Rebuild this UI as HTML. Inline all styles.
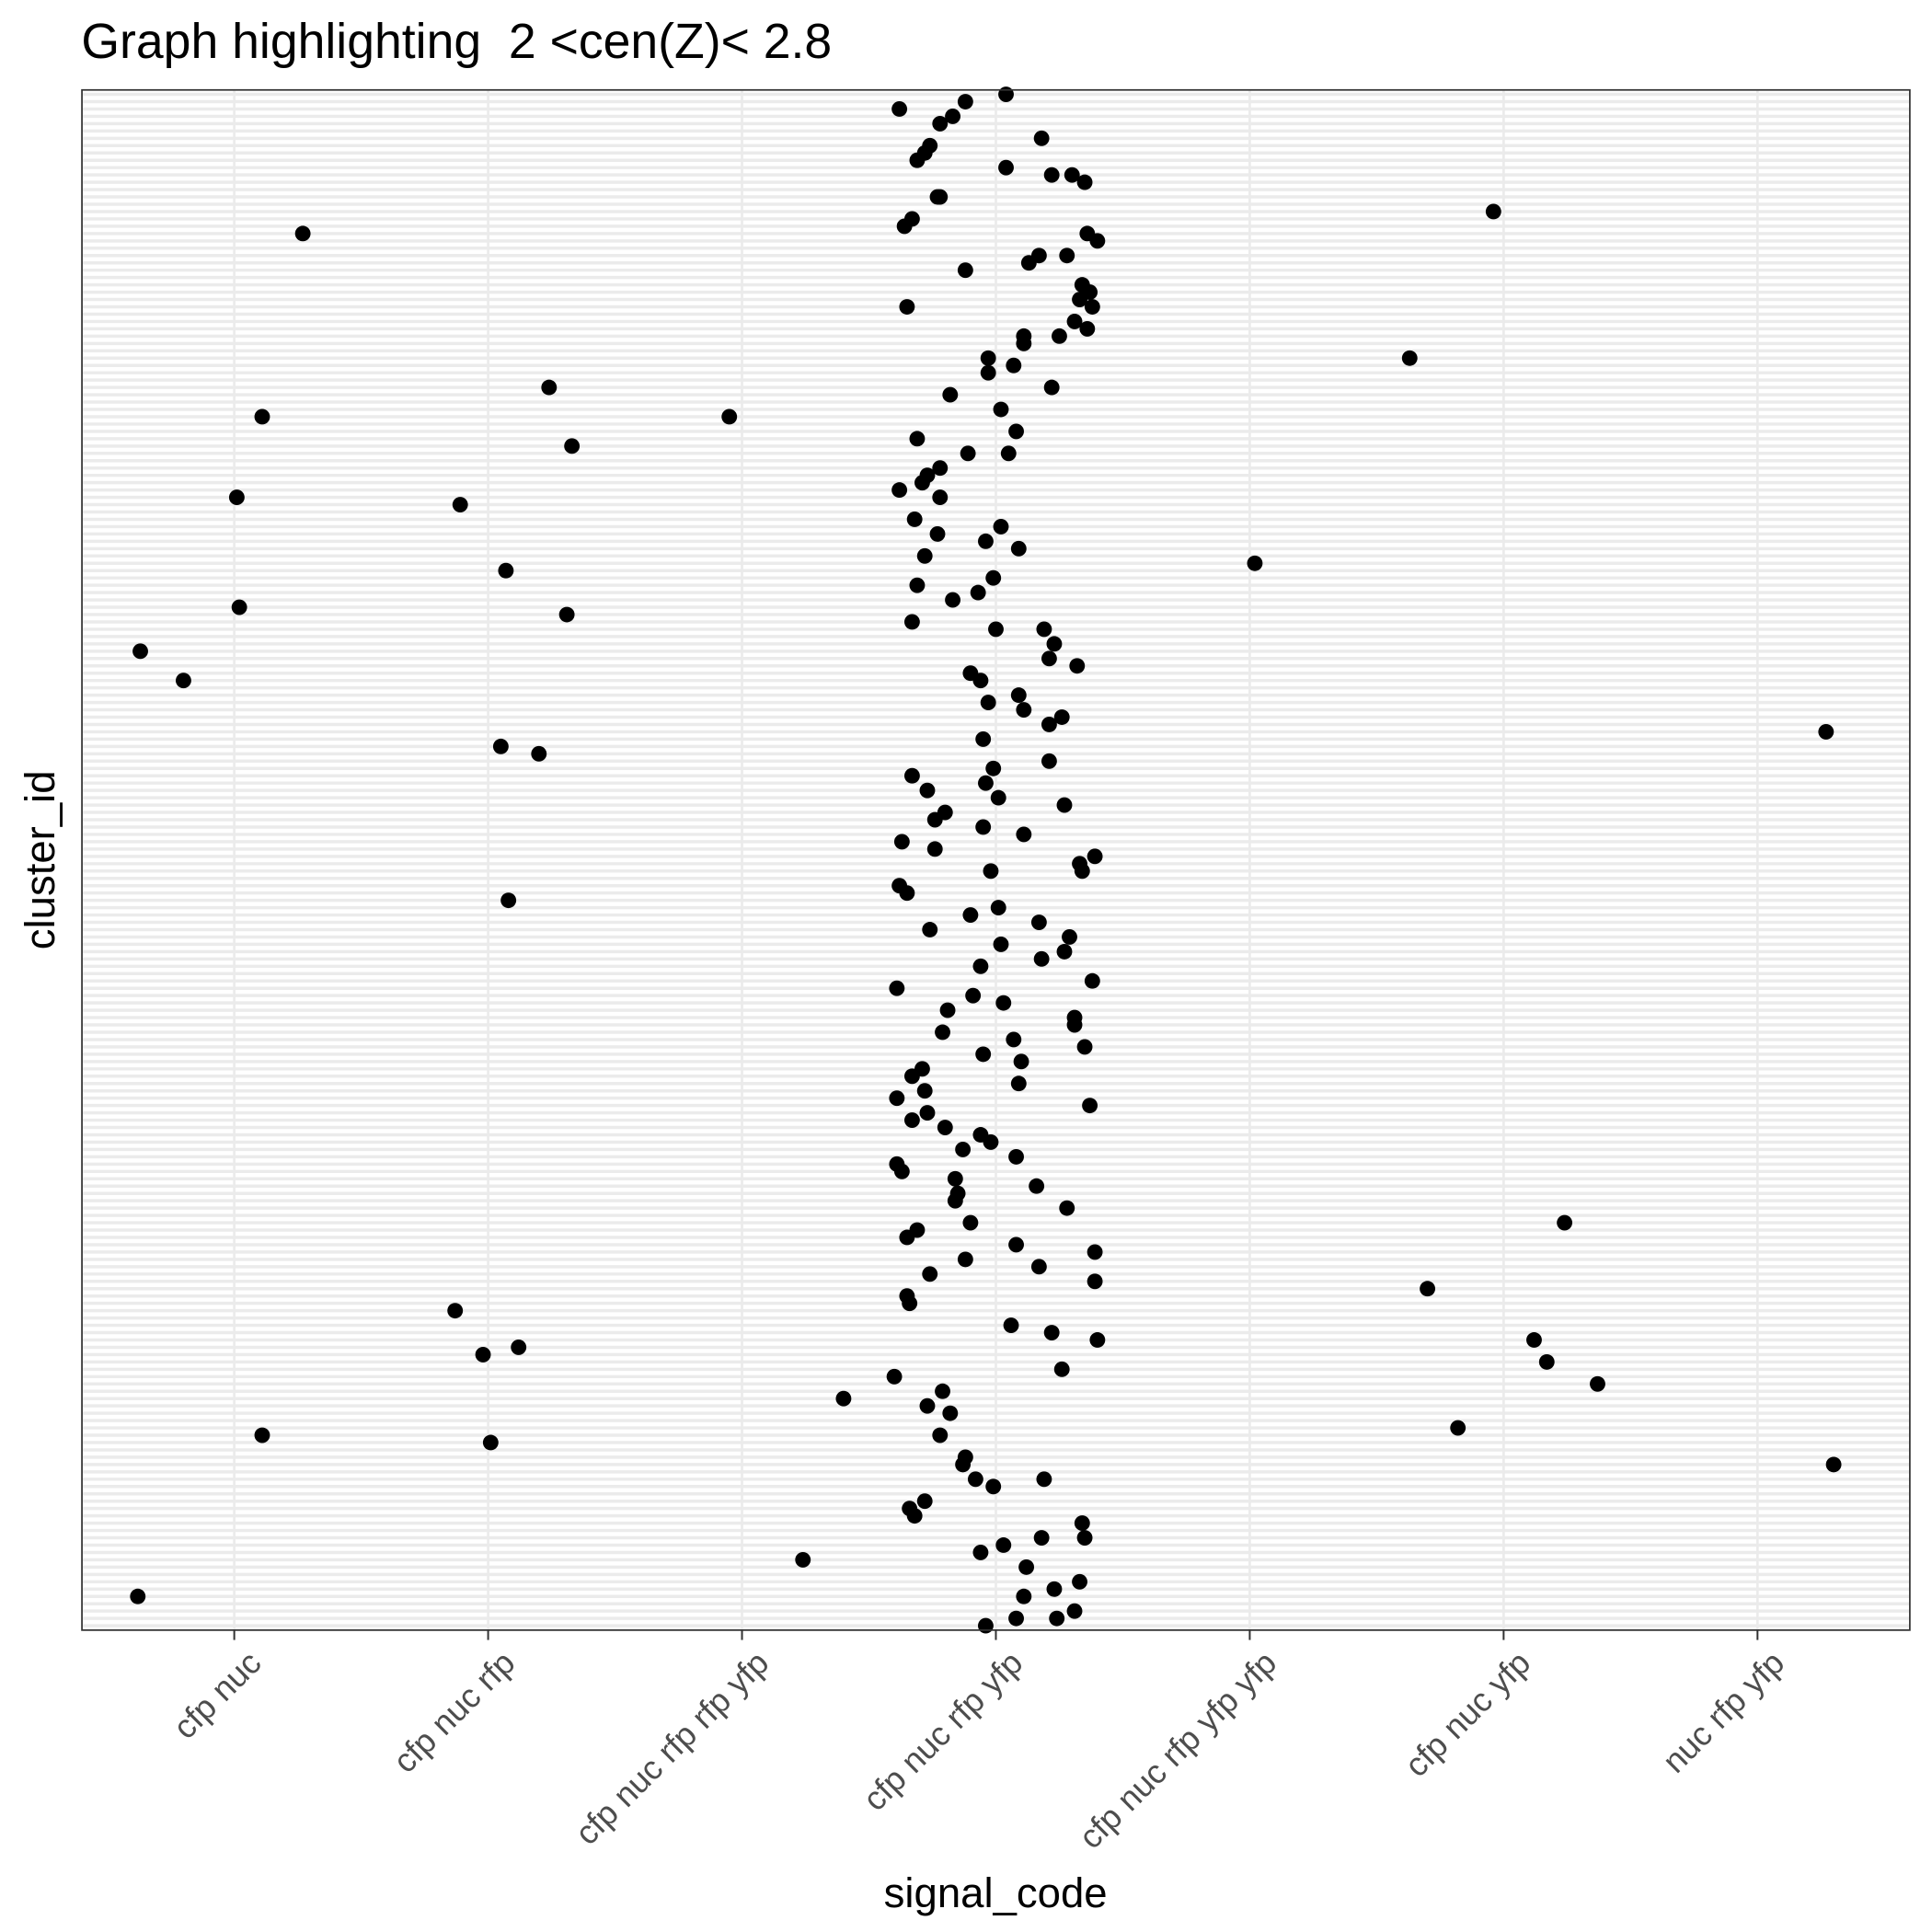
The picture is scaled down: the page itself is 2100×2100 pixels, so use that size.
<!DOCTYPE html>
<html><head><meta charset="utf-8"><style>
html,body{margin:0;padding:0;background:#fff}
svg{display:block}
text{font-family:"Liberation Sans",Arial,sans-serif}
</style></head><body>
<svg id="chart" width="2100" height="2100" viewBox="0 0 1568 1568" xmlns="http://www.w3.org/2000/svg">
<rect x="0" y="0" width="1568" height="1568" fill="#fff"/>
<text x="66" y="47" font-size="40" fill="#000">Graph highlighting &#160;2 &lt;cen(Z)&lt; 2.8</text>
<g id="grid"></g>
<g id="points"></g>
<rect x="66.5" y="73" width="1483.5" height="1250" fill="none" stroke="#333" stroke-width="1.3"/>
<g id="xaxis"></g>
<text x="808" y="1548" font-size="34" text-anchor="middle" fill="#000">signal_code</text>
<text transform="translate(44,698) rotate(-90)" font-size="34" text-anchor="middle" fill="#000">cluster_id</text>
</svg>
<script>
const categories = ["cfp nuc","cfp nuc rfp","cfp nuc rfp rfp yfp","cfp nuc rfp yfp","cfp nuc rfp yfp yfp","cfp nuc yfp","nuc rfp yfp"];
const clusterCount = 210;
const pointX = [3.62,3.88,4.04,3.83,3.78,3.74,3.72,3.69,4.18,4.04,4.30,4.22,4.35,3.77,3.78,3.67,3.64,5.96,1.27,4.36,4.40,4.17,4.13,4.28,3.88,4.34,4.37,4.33,4.38,3.65,4.31,4.36,4.25,4.11,4.11,3.97,5.63,4.07,3.97,4.22,2.24,3.82,4.02,2.95,1.11,4.08,3.69,2.33,3.89,4.05,3.78,3.73,3.71,3.62,3.78,1.01,1.89,3.68,4.02,3.77,3.96,4.09,3.72,5.02,2.07,3.99,3.69,3.93,3.83,1.02,2.31,3.67,4.00,4.19,4.23,0.63,4.21,4.32,3.90,3.94,0.80,4.09,3.97,4.11,4.26,4.21,7.27,3.95,2.05,2.20,4.21,3.99,3.67,3.96,3.73,4.01,4.27,3.80,3.76,3.95,4.11,3.63,3.76,4.33,4.39,4.34,3.98,3.62,3.65,2.08,4.01,3.90,4.17,4.29,3.74,4.02,4.27,3.94,4.18,3.61,4.38,3.91,4.03,3.81,4.31,4.31,3.79,4.07,4.35,3.95,4.10,3.71,3.67,4.09,3.61,3.72,4.37,3.73,3.67,3.80,3.94,3.98,3.87,4.08,3.61,3.63,3.84,4.16,3.85,3.84,4.28,6.24,3.90,3.69,3.65,4.08,4.39,3.88,4.17,3.74,4.39,5.70,3.65,3.66,1.87,4.06,4.22,4.40,6.12,2.12,1.98,6.17,4.26,3.60,6.37,3.40,3.79,3.73,3.82,5.82,3.78,1.11,2.01,3.88,3.87,7.30,3.92,4.19,3.99,3.72,3.66,3.68,4.34,4.18,4.35,4.03,3.94,3.24,4.12,0.62,4.33,4.23,4.11,4.31,4.24,4.08,3.96];
const pointCluster = [208,209,210,207,206,203,202,201,204,200,199,199,198,196,196,193,192,194,191,191,190,188,187,188,186,184,183,182,181,181,179,178,177,177,176,174,174,173,172,170,170,169,167,166,166,164,163,162,161,161,159,158,157,156,155,155,154,152,151,150,149,148,147,146,145,144,143,142,141,140,139,138,137,137,135,134,133,132,131,130,130,128,127,126,125,124,123,122,121,120,119,118,117,116,115,114,113,112,111,110,109,108,107,105,106,104,104,102,101,100,99,98,97,95,96,94,93,91,92,88,89,87,86,85,84,83,82,81,80,79,78,77,76,75,73,74,72,71,70,69,68,67,66,65,64,63,62,61,60,59,58,56,56,55,54,53,52,51,50,49,48,47,46,45,44,42,41,40,40,39,38,37,36,35,34,32,33,31,30,28,27,27,26,24,23,23,21,21,20,18,17,16,15,13,13,12,11,10,9,5,7,6,5,3,2,2,1];

const NS = "http://www.w3.org/2000/svg";
const panelL = 66.5, panelR = 1550, panelT = 73, panelB = 1323;
function xScale(v){ return panelL + (v - 0.4) / (categories.length + 0.2) * (panelR - panelL); }
function yScale(v){ return panelB - (v - 0.4) / (clusterCount + 0.2) * (panelB - panelT); }

const grid = document.getElementById('grid');
const bg = document.createElementNS(NS,'rect');
bg.setAttribute('x',panelL); bg.setAttribute('y',panelT);
bg.setAttribute('width',panelR-panelL); bg.setAttribute('height',panelB-panelT);
bg.setAttribute('fill','#fff');


grid.appendChild(bg);
for(let i=1;i<=clusterCount;i++){
  const l=document.createElementNS(NS,'line');
  const y=yScale(i);
  l.setAttribute('x1',panelL); l.setAttribute('x2',panelR);
  l.setAttribute('y1',y); l.setAttribute('y2',y);
  l.setAttribute('stroke','#ebebeb'); l.setAttribute('stroke-width','2.6');
  
  
  grid.appendChild(l);
}
const xaxis = document.getElementById('xaxis');
categories.forEach((c,i)=>{
  const x=xScale(i+1);
  const g=document.createElementNS(NS,'line');
  g.setAttribute('x1',x); g.setAttribute('x2',x);
  g.setAttribute('y1',panelT); g.setAttribute('y2',panelB);
  g.setAttribute('stroke','#ebebeb'); g.setAttribute('stroke-width','2');
  
  
  grid.appendChild(g);
  const t=document.createElementNS(NS,'line');
  t.setAttribute('x1',x); t.setAttribute('x2',x);
  t.setAttribute('y1',panelB); t.setAttribute('y2',panelB+8);
  t.setAttribute('stroke','#333'); t.setAttribute('stroke-width','1.5');
  
  
  xaxis.appendChild(t);
  const lb=document.createElementNS(NS,'text');
  lb.setAttribute('transform','translate('+(x+9)+','+(panelB+14)+') rotate(-45)');
  lb.setAttribute('text-anchor','end');
  lb.setAttribute('dy','0.75em');
  lb.setAttribute('font-size','27');
  lb.setAttribute('fill','#4d4d4d');
  lb.textContent=c;
  
  
  xaxis.appendChild(lb);
});
const pts=document.getElementById('points');
pointX.forEach((v,i)=>{
  const c=document.createElementNS(NS,'circle');
  c.setAttribute('cx',xScale(v)); c.setAttribute('cy',yScale(pointCluster[i]));
  c.setAttribute('r','6.3'); c.setAttribute('fill','#000');
  
  
  pts.appendChild(c);
});
</script>
</body></html>
